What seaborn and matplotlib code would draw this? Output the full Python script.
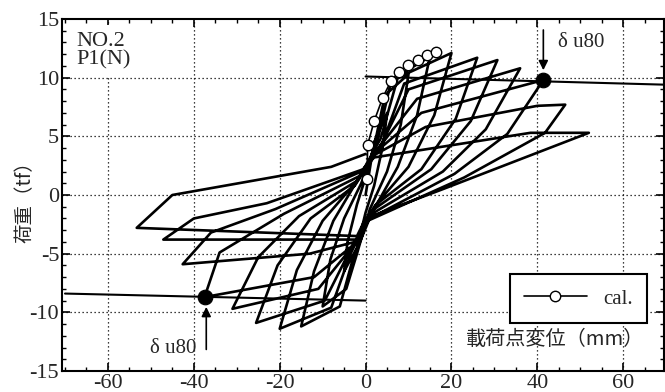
import numpy as np
import pandas as pd
import matplotlib
matplotlib.use("Agg")
import matplotlib.pyplot as plt
import seaborn as sns
from matplotlib.ticker import MultipleLocator

# ---- data ----
# hysteresis path, displacement (mm) and load (tf), vertices in loading order
disp = [0, 2, 5, 4.2, 2, 0, -2, -5, -4.2, -2, 0,
        2.5, 4.5, 10, 8.2, 5, 1.0, -2.0, -4.5, -10, -8.2, -5, -1.0,
        3.0, 6, 15, 12, 7.5, 1.5, -3.0, -6, -15, -12, -7.5, -1.5,
        3.5, 7.5, 20, 16, 10, 2.0, -3.5, -8, -20, -16, -10, -2.0,
        4.0, 9, 26, 21, 13, 2.5, -4.0, -9.5, -25.5, -20.5, -12.8, -2.5,
        3.5, 10, 30.7, 24.5, 15.3, 2.0, -3.5, -11, -31, -25, -15.5, -2.0,
        3.0, 12, 36, 28, 18, 1.5, -3.0, -12, -37.5, -34, -19, -1.5,
        2.5, 13, 41.4, 33, 20.7, 1.0, -2.5, -13, -42.6, -36, -21, -1.0,
        2.0, 14, 40, 46.5, 41.8, 23, 0.5, -2.0, -47.1, -40, -23, -0.5,
        2.0, 38.4, 52, 18, 0.0, -2.0, -53.3, -45, -8, 0]
load = [0, 4.5, 7.0, 4.5, 0.8, -1.5, -4.5, -6.5, -4.0, -0.8, 1.5,
        5.0, 8.5, 10.3, 6.0, 2.0, -1.2, -5.0, -8.0, -9.5, -5.5, -2.0, 1.0,
        5.0, 9.8, 11.8, 6.8, 2.4, -1.5, -5.5, -9.5, -11.2, -6.5, -2.2, 1.5,
        4.8, 10.0, 12.1, 6.8, 2.4, -1.0, -5.0, -9.6, -11.4, -6.4, -2.2, 1.2,
        4.5, 9.5, 11.7, 6.5, 2.2, -0.8, -5.0, -9.0, -10.9, -6.0, -2.0, 0.8,
        4.2, 9.0, 11.5, 6.3, 2.2, -1.2, -4.6, -8.0, -9.7, -5.3, -1.8, 1.2,
        4.0, 8.2, 10.8, 5.6, 2.0, -1.6, -4.3, -7.0, -8.7, -4.9, -1.6, 1.6,
        3.7, 7.0, 9.8, 5.2, 1.8, -2.0, -4.0, -5.0, -5.9, -3.2, -1.2, 2.0,
        3.4, 5.8, 7.6, 7.7, 5.3, 1.5, -2.2, -3.8, -3.8, -2.0, -0.7, 2.2,
        3.2, 5.3, 5.3, 0.5, -2.0, -3.5, -2.8, 0.0, 2.4, 3.5]

# calculated skeleton curve
calc_disp = [0.3, 0.5, 2.0, 4.0, 5.9, 7.8, 9.9, 12.1, 14.2, 16.4]
calc_load = [1.4, 4.3, 6.3, 8.3, 9.7, 10.5, 11.1, 11.5, 11.9, 12.2]

# 80 % load lines and delta u80 points
pos80_disp = [0, 70]
pos80_load = [10.1, 9.4]
neg80_disp = [-70, 0]
neg80_load = [-8.4, -9.0]
u80_disp = [41.4, -37.5]
u80_load = [9.8, -8.7]

x_ticks = [-60, -40, -20, 0, 20, 40, 60]
y_ticks = [-15, -10, -5, 0, 5, 10, 15]

# ---- style ----
sns.set_theme(style="ticks")
plt.rcParams["font.family"] = ["Liberation Serif", "Noto Sans CJK JP", "DejaVu Sans"]
plt.rcParams["axes.linewidth"] = 1.5

fig = plt.figure(figsize=(6.65, 3.92), dpi=100)
ax = fig.add_axes([62 / 665, 21 / 392, (664 - 62) / 665, 352 / 392])
ax.set_xlim(-70.7, 69.5)
ax.set_ylim(-15, 15)

# grid
for xv in x_ticks:
    ax.axvline(xv, color="black", lw=0.9, ls=(0, (1, 2.2)), zorder=0)
for yv in y_ticks[1:-1]:
    ax.axhline(yv, color="black", lw=0.9, ls=(0, (1, 2.2)), zorder=0)

df = pd.DataFrame({"disp": disp, "load": load})
sns.lineplot(data=df, x="disp", y="load", sort=False, estimator=None,
             color="black", lw=1.9, ax=ax, zorder=2)

sns.lineplot(x=pos80_disp, y=pos80_load, sort=False, estimator=None,
             color="black", lw=1.5, ax=ax, zorder=2)
sns.lineplot(x=neg80_disp, y=neg80_load, sort=False, estimator=None,
             color="black", lw=1.5, ax=ax, zorder=2)

sns.lineplot(x=calc_disp, y=calc_load, sort=False, estimator=None,
             color="black", lw=1.2, marker="o", markersize=7.5,
             markerfacecolor="white", markeredgecolor="black",
             markeredgewidth=1.0, ax=ax, zorder=4, label="cal.")

sns.scatterplot(x=u80_disp, y=u80_load, color="black", s=110, ax=ax,
                zorder=5, edgecolor="black")

# arrows and labels
ax.annotate("", xy=(u80_disp[0], 10.4), xytext=(u80_disp[0], 14.3),
            arrowprops=dict(arrowstyle="-|>", color="black", lw=1.2,
                            mutation_scale=14))
ax.text(44.8, 13.0, "δ u80", fontsize=15, ha="left", va="center")
ax.annotate("", xy=(-37.1, -9.3), xytext=(-37.1, -13.4),
            arrowprops=dict(arrowstyle="-|>", color="black", lw=1.2,
                            mutation_scale=14))
ax.text(-39.3, -13.1, "δ u80", fontsize=15, ha="right", va="center")

ax.text(-67.3, 13.9, "NO.2\nP1(N)", fontsize=16, ha="left", va="top",
        linespacing=0.95, zorder=3,
        bbox=dict(boxstyle="square,pad=0.3", facecolor="white",
                  edgecolor="none"))

ax.text(44.2, -12.3, "載荷点変位（mm）", fontsize=14.5, ha="center", va="center",
        family=["Noto Sans CJK JP", "DejaVu Sans"])
fig.text(25 / 665, 1 - 197 / 392, "荷重（tf）", rotation=90, fontsize=14,
         ha="center", va="center", family=["Noto Sans CJK JP", "DejaVu Sans"])

ax.set_xlabel("")
ax.set_ylabel("")
ax.set_xticks(x_ticks)
ax.set_xticklabels([str(v) for v in x_ticks])
ax.set_yticks(y_ticks)
ax.set_yticklabels([str(v) for v in y_ticks])
ax.xaxis.set_minor_locator(MultipleLocator(5))
ax.yaxis.set_minor_locator(MultipleLocator(1))
ax.tick_params(which="both", direction="in", top=True, right=True,
               labelsize=16, color="black")
ax.tick_params(which="major", length=6, width=1.2, pad=2)
ax.tick_params(which="minor", length=3, width=1.0)
for sp in ax.spines.values():
    sp.set_color("black")

leg = ax.legend(loc="center", bbox_to_anchor=(0.858, 0.205), frameon=True,
                fancybox=False, edgecolor="black", fontsize=15,
                handlelength=3.0, borderpad=0.7, framealpha=1)
leg.get_frame().set_linewidth(1.5)

fig.savefig("out.png", dpi=100)
